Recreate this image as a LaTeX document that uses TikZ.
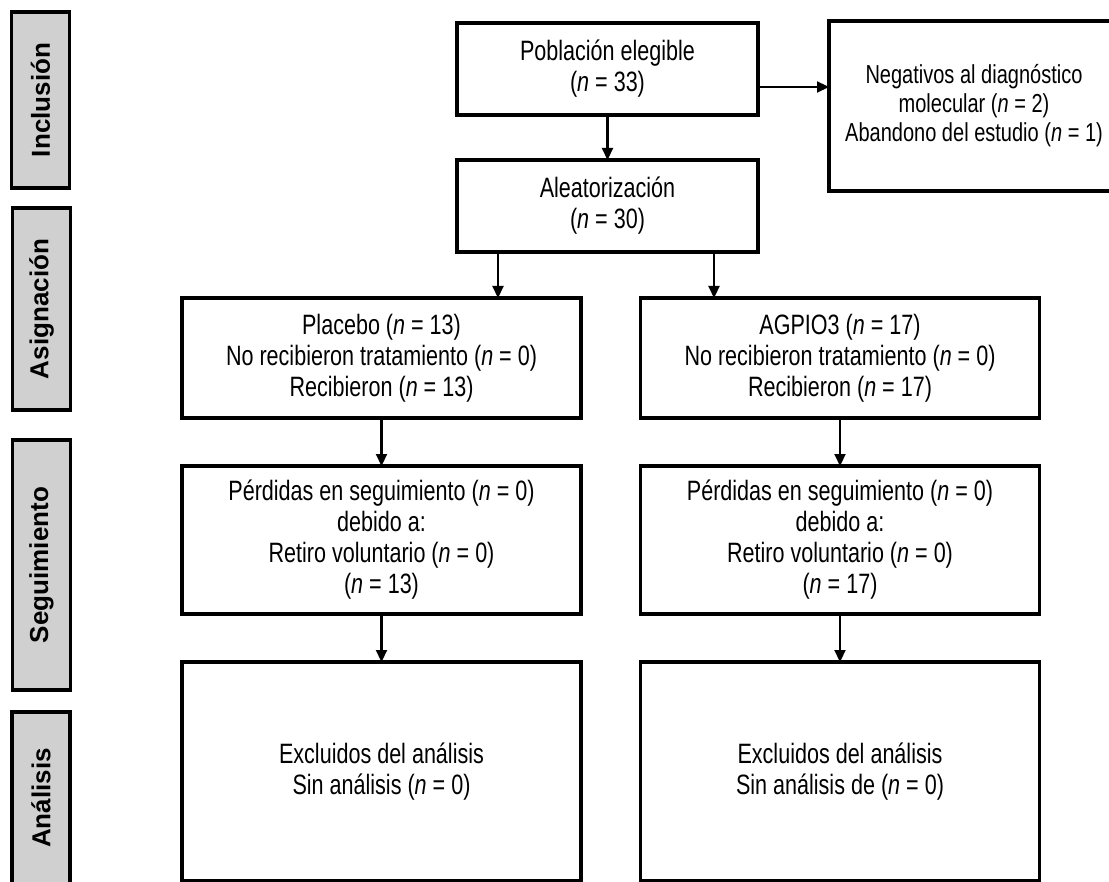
\documentclass[tikz,border=0pt]{standalone}
\usepackage{fontspec}
\setmainfont[FakeStretch=0.77]{Liberation Sans}
\newfontfamily\sidefont[UprightFont={* Bold}]{Liberation Sans}
\usetikzlibrary{arrows.meta}
\definecolor{sidegray}{RGB}{208,208,208}
\tikzstyle{every node}=[inner sep=0pt, outer sep=0pt, font=\fontsize{14}{15.5}\selectfont]
\tikzstyle{box}=[draw=black, line width=1.6pt, align=center, rectangle]
\tikzstyle{phase}=[box, fill=sidegray, rotate=90, minimum height=29pt, font=\fontsize{13}{15}\sidefont]
\tikzstyle{arr}=[line width=1.1pt, -{Triangle[length=6pt,width=5.5pt]}]

\begin{document}
\begin{tikzpicture}[x=0.5pt, y=-0.5pt]
    \useasboundingbox (0,0) rectangle (1109,882);
    \node[phase, minimum width=88pt] (inc) at (40.5,100) {Inclusión};
    \node[phase, minimum width=101pt] (asig) at (41.5,309) {Asignación};
    \node[phase, minimum width=125pt] (seg) at (41.5,565) {Seguimiento};
    \node[phase, minimum width=86pt] (anal) at (41,798) {Análisis};

    \node[box, minimum width=150.5pt, minimum height=46pt] (pop) at (607.5,69)
      {Población elegible\\(\textit{n} = 33)};
    \node[box, minimum width=145pt, minimum height=85pt, font=\fontsize{13}{14.5}\selectfont] (neg) at (974,106)
      {Negativos al diagnóstico\\molecular (\textit{n} = 2)\\Abandono del estudio (\textit{n} = 1)};
    \node[box, minimum width=150.5pt, minimum height=46pt] (ale) at (607.5,206)
      {Aleatorización\\(\textit{n} = 30)};
    \node[box, minimum width=199.5pt, minimum height=60pt] (plac) at (381.5,358)
      {Placebo (\textit{n} = 13)\\No recibieron tratamiento (\textit{n} = 0)\\Recibieron (\textit{n} = 13)};
    \node[box, minimum width=199.5pt, minimum height=60pt] (agp) at (840,358)
      {AGPIO3 (\textit{n} = 17)\\No recibieron tratamiento (\textit{n} = 0)\\Recibieron (\textit{n} = 17)};
    \node[box, minimum width=199.5pt, minimum height=74pt] (perdp) at (381.5,540)
      {Pérdidas en seguimiento (\textit{n} = 0)\\debido a:\\Retiro voluntario (\textit{n} = 0)\\(\textit{n} = 13)};
    \node[box, minimum width=199.5pt, minimum height=74pt] (perda) at (840,540)
      {Pérdidas en seguimiento (\textit{n} = 0)\\debido a:\\Retiro voluntario (\textit{n} = 0)\\(\textit{n} = 17)};
    \node[box, minimum width=199.5pt, minimum height=109.5pt] (exclp) at (381.5,771.5)
      {Excluidos del análisis\\Sin análisis (\textit{n} = 0)};
    \node[box, minimum width=199.5pt, minimum height=109.5pt] (excla) at (840,771.5)
      {Excluidos del análisis\\Sin análisis de (\textit{n} = 0)};

    \draw[arr] (pop) -- (ale);
    \draw[arr] ([yshift=-9pt]pop.east) -- ([yshift=-9pt]pop.east -| neg.west);
    \draw[arr] ([xshift=-54.75pt]ale.south) -- ([xshift=-54.75pt]ale.south |- plac.north);
    \draw[arr] ([xshift=53.25pt]ale.south) -- ([xshift=53.25pt]ale.south |- agp.north);
    \draw[arr] (plac) -- (perdp);
    \draw[arr] (agp) -- (perda);
    \draw[arr] (perdp) -- (exclp);
    \draw[arr] (perda) -- (excla);
\end{tikzpicture}
\end{document}
